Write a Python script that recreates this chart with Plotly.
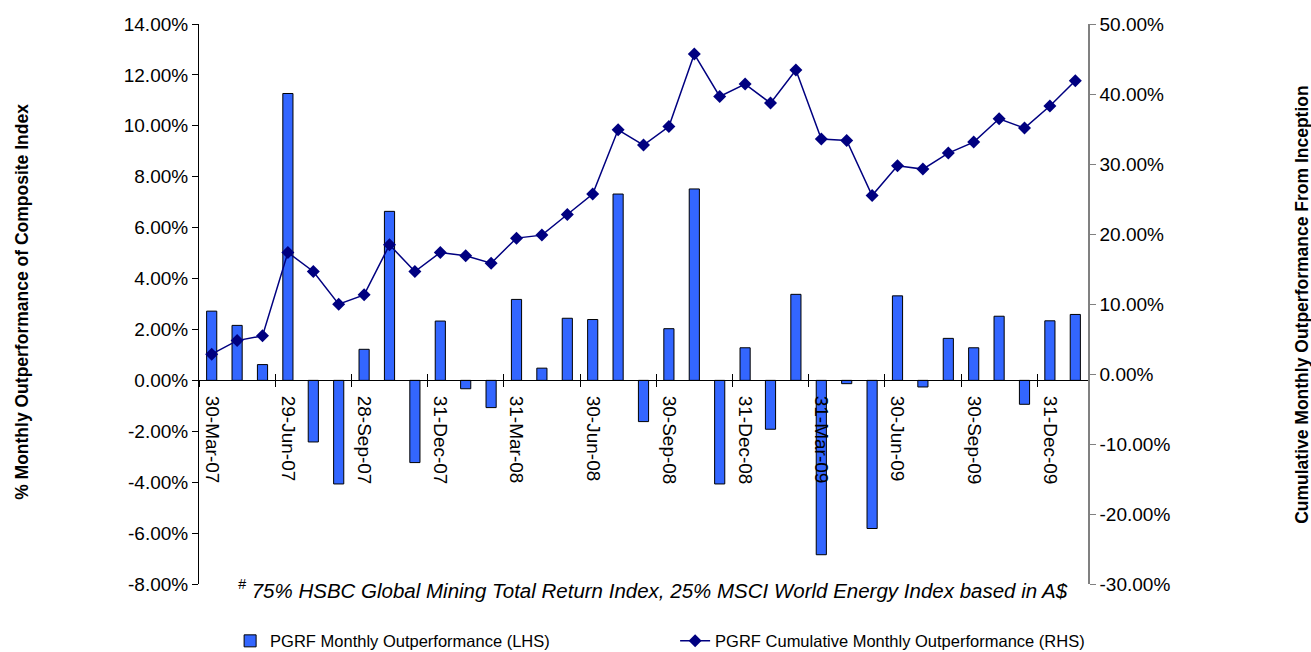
import plotly.graph_objects as go

dates = ["30-Mar-07", "30-Apr-07", "31-May-07", "29-Jun-07", "31-Jul-07", "31-Aug-07",
         "28-Sep-07", "31-Oct-07", "30-Nov-07", "31-Dec-07", "31-Jan-08", "29-Feb-08",
         "31-Mar-08", "30-Apr-08", "30-May-08", "30-Jun-08", "31-Jul-08", "29-Aug-08",
         "30-Sep-08", "31-Oct-08", "28-Nov-08", "31-Dec-08", "30-Jan-09", "27-Feb-09",
         "31-Mar-09", "30-Apr-09", "29-May-09", "30-Jun-09", "31-Jul-09", "31-Aug-09",
         "30-Sep-09", "30-Oct-09", "30-Nov-09", "31-Dec-09", "29-Jan-10"]

monthly = [2.72, 2.16, 0.62, 11.27, -2.42, -4.07, 1.22, 6.64, -3.23, 2.33, -0.33, -1.07,
           3.18, 0.48, 2.44, 2.39, 7.32, -1.62, 2.03, 7.52, -4.07, 1.28, -1.92, 3.38,
           -6.85, -0.13, -5.82, 3.32, -0.26, 1.65, 1.28, 2.52, -0.94, 2.34, 2.59]

cumulative = [2.83, 4.77, 5.45, 17.36, 14.64, 9.97, 11.31, 18.45, 14.64, 17.36, 16.88, 15.83,
              19.41, 19.84, 22.79, 25.70, 34.89, 32.70, 35.36, 45.71, 39.65, 41.42, 38.70, 43.42,
              33.56, 33.36, 25.50, 29.75, 29.27, 31.56, 33.13, 36.46, 35.13, 38.28, 41.90]

tick_labels = dates[::3]

left_ticks = [-8, -6, -4, -2, 0, 2, 4, 6, 8, 10, 12, 14]
left_tick_text = ["-8.00%", "-6.00%", "-4.00%", "-2.00%", "0.00%", "2.00%", "4.00%",
                  "6.00%", "8.00%", "10.00%", "12.00%", "14.00%"]
right_ticks = [-30, -20, -10, 0, 10, 20, 30, 40, 50]
right_tick_text = ["-30.00%", "-20.00%", "-10.00%", "0.00%", "10.00%", "20.00%",
                   "30.00%", "40.00%", "50.00%"]

left_title = "% Monthly Outperformance of Composite Index"
right_title = "Cumulative Monthly Outperformance From Inception"
footnote = "<sup>#</sup> 75% HSBC Global Mining Total Return Index, 25% MSCI World Energy Index based in A$"
bar_name = "PGRF Monthly Outperformance (LHS)"
line_name = "PGRF Cumulative Monthly Outperformance (RHS)"

FONT = "Liberation Sans, Arial, sans-serif"
n = len(dates)
zero_pos = 8 / 22
boundary_ticks = [i - 0.5 for i in range(0, n, 3)]
# small non-breaking-space lead so labels sit below the crossing tick marks
tick_text = ["\u00a0\u00a0" + t for t in tick_labels]

fig = go.Figure()
fig.add_trace(go.Bar(
    x=dates, y=monthly, name=bar_name, yaxis="y",
    marker=dict(color="#3366FF", line=dict(color="black", width=1)),
))
fig.add_trace(go.Scatter(
    x=dates, y=cumulative, name=line_name, yaxis="y2", mode="lines+markers",
    line=dict(color="#000080", width=1.5),
    marker=dict(symbol="diamond", size=10, color="#000080"),
))
# empty helper traces so the tick-mark-only axes get drawn
for ax in ("x2", "x3"):
    fig.add_trace(go.Scatter(x=[None], y=[None], xaxis=ax, yaxis="y",
                             showlegend=False, hoverinfo="skip", mode="markers"))

tick_axis = dict(
    overlaying="x", anchor="free", position=zero_pos,
    range=[-0.5, n - 0.5], autorange=False,
    tickmode="array", tickvals=boundary_ticks, showticklabels=False,
    ticklen=6, tickcolor="black", showline=False, showgrid=False, zeroline=False,
)

fig.update_layout(
    width=1311, height=652,
    margin=dict(l=199, r=223, t=24, b=68, autoexpand=False),
    paper_bgcolor="white", plot_bgcolor="white",
    font=dict(family=FONT, size=18, color="black"),
    bargap=0.6,
    showlegend=True,
    legend=dict(orientation="h", x=0.035, y=-0.102, xanchor="left", yanchor="middle",
                font=dict(size=16.5), entrywidth=400, entrywidthmode="pixels",
                bgcolor="rgba(0,0,0,0)"),
    xaxis=dict(
        type="category", anchor="free", position=zero_pos,
        range=[-0.5, n - 0.5], autorange=False,
        showline=True, linecolor="black", linewidth=1,
        tickmode="array", tickvals=tick_labels, ticktext=tick_text,
        ticks="", tickangle=90, showgrid=False, zeroline=False,
        tickfont=dict(size=19),
    ),
    xaxis2=dict(ticks="outside", **tick_axis),
    xaxis3=dict(ticks="inside", **tick_axis),
    yaxis=dict(
        range=[-8, 14], tickmode="array", tickvals=left_ticks, ticktext=left_tick_text,
        showline=True, linecolor="black", linewidth=1,
        ticks="outside", ticklen=6, tickcolor="black",
        showgrid=False, zeroline=False, tickfont=dict(size=19),
    ),
    yaxis2=dict(
        range=[-30, 50], tickmode="array", tickvals=right_ticks, ticktext=right_tick_text,
        overlaying="y", side="right",
        showline=True, linecolor="#808080", linewidth=1.5,
        ticks="outside", ticklen=6, tickcolor="#808080",
        showgrid=False, zeroline=False, tickfont=dict(size=19),
    ),
    annotations=[
        dict(text="<b>" + left_title + "</b>", xref="paper", yref="paper",
             x=(22 - 199) / 889, y=(584 - 302) / 559.7, textangle=-90,
             showarrow=False, font=dict(size=17.5), xanchor="center", yanchor="middle"),
        dict(text="<b>" + right_title + "</b>", xref="paper", yref="paper",
             x=(1302 - 199) / 889, y=(584 - 305) / 559.7, textangle=-90,
             showarrow=False, font=dict(size=17.5), xanchor="center", yanchor="middle"),
        dict(text="<i>" + footnote + "</i>", xref="paper", yref="paper",
             x=(236 - 199) / 889, y=(584 - 589) / 559.7, xanchor="left", yanchor="middle",
             showarrow=False, font=dict(size=20.5)),
    ],
)

fig.write_html("out.html")
